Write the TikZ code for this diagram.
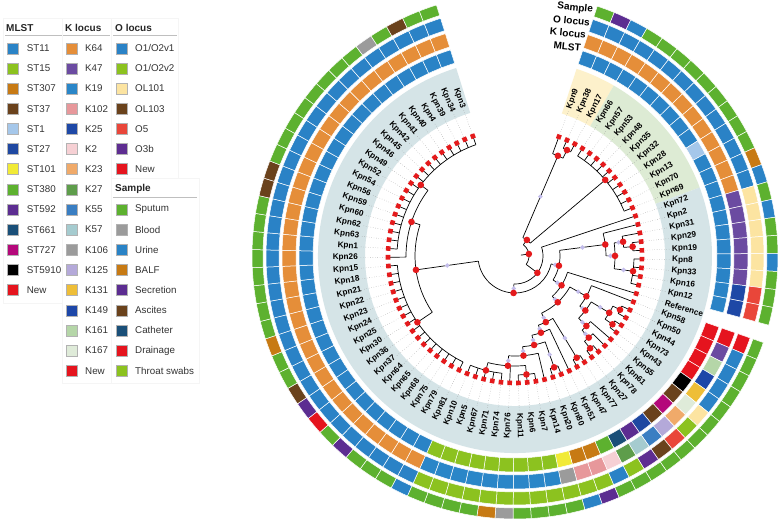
\documentclass[tikz,border=0pt]{standalone}
\usepackage{fontspec}
\setmainfont{Liberation Sans}
\definecolor{tred}{HTML}{E41A1C}
\definecolor{lavc}{HTML}{C3BDEB}
\definecolor{shB}{HTML}{D5E4E7}
\definecolor{shY}{HTML}{FDF1CB}
\definecolor{shG}{HTML}{DDEBD4}
\definecolor{legtxt}{HTML}{333333}
% MLST
\definecolor{mB}{HTML}{2A83C6}\definecolor{mLG}{HTML}{8CC21F}\definecolor{mOR}{HTML}{C77A14}
\definecolor{mBR}{HTML}{6A421C}\definecolor{mLB}{HTML}{A5C7EA}\definecolor{mDB}{HTML}{1F48A1}
\definecolor{mYE}{HTML}{F1EA36}\definecolor{mGR}{HTML}{5DB12F}\definecolor{mPU}{HTML}{5C2D91}
\definecolor{mTE}{HTML}{1A4F78}\definecolor{mMA}{HTML}{B4087A}\definecolor{mBK}{HTML}{000000}
\definecolor{mRD}{HTML}{E5141E}
% K
\definecolor{kOR}{HTML}{E58E39}\definecolor{kPU}{HTML}{6B4BA1}\definecolor{kBL}{HTML}{2A86C8}
\definecolor{kSA}{HTML}{E7989B}\definecolor{kDB}{HTML}{1E48A6}\definecolor{kPI}{HTML}{F6D0D4}
\definecolor{kLO}{HTML}{F0AA6A}\definecolor{kGR}{HTML}{5E9D4B}\definecolor{kST}{HTML}{3A7EC2}
\definecolor{kLT}{HTML}{A5CBCF}\definecolor{kGY}{HTML}{9B9B9B}\definecolor{kLA}{HTML}{B4A9D9}
\definecolor{kGO}{HTML}{EEBE38}\definecolor{kNB}{HTML}{1D47A8}\definecolor{kLG}{HTML}{B5D6A8}
\definecolor{kPA}{HTML}{DFEBD9}
% O
\definecolor{oB}{HTML}{2A82C6}\definecolor{oLG}{HTML}{8CC21F}\definecolor{oBE}{HTML}{FCE4A1}
\definecolor{oBR}{HTML}{6A421C}\definecolor{oRE}{HTML}{E9463A}\definecolor{oPU}{HTML}{5E2D91}
% Sample
\definecolor{sG}{HTML}{5DB12F}\definecolor{sGY}{HTML}{9B9B9B}\definecolor{sB}{HTML}{2A83C6}
\definecolor{sOR}{HTML}{C77A14}\definecolor{sPU}{HTML}{5C2D91}\definecolor{sBR}{HTML}{6A421C}
\definecolor{sTE}{HTML}{1A4F78}\definecolor{sRD}{HTML}{E5141E}\definecolor{sTS}{HTML}{8CC21F}

\newcommand\SetLeaf[1]{%
  \pgfmathsetmacro\tmpa{69.8-(#1-1)*3.956}%
  \expandafter\xdef\csname tangL#1\endcsname{\tmpa}%
  \expandafter\xdef\csname tradL#1\endcsname{127}}
\newcommand\TNode[3]{%
  \xdef\tsum{0}\xdef\tcnt{0}\xdef\tmin{1000}\xdef\tmax{-1000}%
  \foreach \ch in {#3}{%
    \edef\chA{\csname tang\ch\endcsname}%
    \pgfmathsetmacro\tmp{\tsum+\chA}\xdef\tsum{\tmp}%
    \pgfmathsetmacro\tmp{\tcnt+1}\xdef\tcnt{\tmp}%
    \pgfmathsetmacro\tmp{min(\tmin,\chA)}\xdef\tmin{\tmp}%
    \pgfmathsetmacro\tmp{max(\tmax,\chA)}\xdef\tmax{\tmp}%
  }%
  \pgfmathsetmacro\tmp{\tsum/\tcnt}%
  \expandafter\xdef\csname tang#1\endcsname{\tmp}%
  \expandafter\xdef\csname trad#1\endcsname{#2}%
  \draw[br] (\tmin:#2pt) arc[start angle=\tmin, end angle=\tmax, radius=#2pt];
  \foreach \ch in {#3}{%
    \edef\chA{\csname tang\ch\endcsname}\edef\chR{\csname trad\ch\endcsname}%
    \draw[br] (\chA:#2pt) -- (\chA:\chR pt);}%
}
\newcommand\Mk[2]{%
  \edef\mkA{\csname tang#1\endcsname}\edef\mkR{\csname trad#1\endcsname}%
  \pgfmathsetmacro\mkM{(#2+\mkR)/2}%
  \fill[lavc] (\mkA:\mkM pt) +(0,2.4pt) -- +(2.4pt,0) -- +(0,-2.4pt) -- +(-2.4pt,0) -- cycle;}
\newcommand\Tile[4]{%
  \pgfmathsetmacro\tA{69.8-(#3-1)*3.956+1.978}\pgfmathsetmacro\tB{\tA-3.956}%
  \fill[fill=#4, draw=white, line width=0.5pt] (\tA:#1pt) arc[start angle=\tA,end angle=\tB,radius=#1pt] -- (\tB:#2pt) arc[start angle=\tB,end angle=\tA,radius=#2pt] -- cycle;}
\newcommand\RingM[2]{\Tile{202}{216}{#1}{#2}}
\newcommand\RingK[2]{\Tile{219}{233}{#1}{#2}}
\newcommand\RingO[2]{\Tile{236}{249}{#1}{#2}}
\newcommand\RingS[2]{\Tile{252}{263}{#1}{#2}}
\newcommand\RunT[4]{\foreach \q in {#2,...,#3}{#1{\q}{#4}}}
\newcommand\Sector[5]{\fill[#5] (#1:#3pt) arc[start angle=#1,end angle=#2,radius=#3pt] -- (#2:#4pt) arc[start angle=#2,end angle=#1,radius=#4pt] -- cycle;}
\def\leafnames{Kpn9,Kpn38,Kpn17,Kpn66,Kpn57,Kpn53,Kpn48,Kpn35,Kpn32,Kpn28,Kpn13,Kpn70,Kpn69,Kpn72,Kpn2,Kpn31,Kpn29,Kpn19,Kpn8,Kpn33,Kpn16,Kpn12,Reference,Kpn58,Kpn50,Kpn44,Kpn73,Kpn43,Kpn55,Kpn61,Kpn78,Kpn27,Kpn77,Kpn47,Kpn51,Kpn80,Kpn20,Kpn14,Kpn7,Kpn6,Kpn11,Kpn76,Kpn74,Kpn71,Kpn67,Kpn5,Kpn10,Kpn81,Kpn79,Kpn75,Kpn68,Kpn65,Kpn64,Kpn37,Kpn36,Kpn30,Kpn25,Kpn24,Kpn23,Kpn22,Kpn21,Kpn18,Kpn15,Kpn26,Kpn1,Kpn63,Kpn62,Kpn60,Kpn59,Kpn56,Kpn54,Kpn52,Kpn49,Kpn46,Kpn45,Kpn42,Kpn41,Kpn40,Kpn4,Kpn39,Kpn34,Kpn3}

\begin{document}
\begin{tikzpicture}[x=1pt,y=1pt,
  br/.style={black, line width=0.7pt},
  lead/.style={black!45, line width=0.4pt, dotted},
  lab/.style={font=\bfseries\fontsize{8.2}{9}\selectfont, inner sep=0pt},
  tipsq/.style={fill=tred, inner sep=0pt, minimum size=4.6pt, draw=none},
  legsq/.style={draw=black!30, line width=0.4pt, inner sep=0pt, minimum size=11pt},
  legtx/.style={font=\fontsize{9.8}{11}\selectfont, text=legtxt, inner sep=0pt, anchor=west},
  legti/.style={font=\bfseries\fontsize{10}{12}\selectfont, text=black!85, inner sep=0pt, anchor=west},
  legln/.style={black!25, line width=1.3pt},
  legbox/.style={draw=black!4, line width=0.5pt},
  ringlab/.style={font=\bfseries\fontsize{10}{12}\selectfont, anchor=east, rotate=-6, inner sep=0pt}]
\fill[white] (0,0) rectangle (781,522);
\useasboundingbox (0,0) rectangle (781,522);

\begin{scope}[shift={(515,266)}]
  % label shading
  \Sector{71.78}{59.91}{150}{197}{shY}
  \Sector{59.91}{20.35}{150}{197}{shG}
  \Sector{20.35}{-252.62}{150}{197}{shB}
  % leaves
  \foreach \i in {1,...,82}{\SetLeaf{\i}}
  % tree
  \TNode{T1a}{118}{L2,L3}
  \TNode{T1}{109}{L1,T1a}
  \TNode{U}{118}{L4,L5,L6,L7,L8,L9,L10,L11,L12,L13}
  \TNode{Ttop}{20}{T1,U}
  \TNode{S3a}{118}{L17,L18}
  \TNode{S3}{109}{L16,S3a}
  \TNode{S4}{119}{L19,L20,L21,L22}
  \TNode{S2}{100}{S3,S4}
  \TNode{S1}{91}{L15,S2}
  \TNode{P1a}{118}{L25,L26}
  \TNode{P1b}{119}{L27,L28}
  \TNode{P1}{110}{P1a,P1b}
  \TNode{Q4}{119}{L31,L32}
  \TNode{Q3}{110}{L30,Q4}
  \TNode{Q2}{100}{L29,Q3}
  \TNode{Q1}{89}{P1,Q2}
  \TNode{N82}{82}{L24,Q1}
  \TNode{R1}{119}{L33,L34}
  \TNode{R2}{118}{L36,L37}
  \TNode{M1}{119}{L39,L40,L41}
  \TNode{M2}{118}{L43,L44,L45,L46,L47}
  \TNode{M}{110}{M1,L42,M2}
  \TNode{Z6}{100}{L38,M}
  \TNode{Z5}{91}{R2,Z6}
  \TNode{Z4}{81}{L35,Z5}
  \TNode{Z3}{73}{R1,Z4}
  \TNode{Lower2}{63}{N82,Z3}
  \TNode{Lower}{55}{L23,Lower2}
  \TNode{RC}{45}{S1,Lower}
  \TNode{D}{118}{L48,L49,L50,L51,L52,L53,L54,L55,L56,L57,L58,L59,L60,L61,L62,L63}
  \TNode{E}{118}{L65,L66,L67,L68,L69,L70,L71,L72,L73,L74,L75,L76,L77,L78,L79,L80,L81,L82}
  \TNode{C}{109}{L64,E}
  \TNode{B}{100}{C,D}
  \TNode{dot3}{37}{B,RC}
  \TNode{dot2}{28}{dot3,L14}
  \TNode{dot1}{14}{Ttop,dot2}
  \edef\rootA{\csname tangdot1\endcsname}
  \draw[br] (\rootA:6pt) -- (\rootA:14pt);
  % leaders, labels, tips
  \foreach \nm [count=\i] in \leafnames {%
    \pgfmathsetmacro\lA{69.8-(\i-1)*3.956}%
    \draw[lead] (\lA:130pt) -- (\lA:155pt);
    \ifnum\i<42
      \node[lab, anchor=west, rotate=\lA] (lab\i) at (\lA:157pt) {\nm};
    \else
      \pgfmathsetmacro\lB{\lA+180}%
      \node[lab, anchor=east, rotate=\lB] (lab\i) at (\lA:157pt) {\nm};
    \fi
    \node[tipsq, rotate=\lA] (tip\i) at (\lA:127pt) {};
  }
  % markers
  \Mk{T1}{20}\Mk{B}{37}\Mk{RC}{37}\Mk{S1}{45}\Mk{S2}{91}\Mk{S3}{100}\Mk{S4}{100}
  \Mk{Lower}{45}\Mk{Lower2}{55}\Mk{N82}{63}\Mk{Q1}{82}\Mk{Q2}{89}\Mk{Q3}{100}\Mk{P1}{89}
  \Mk{Z3}{63}\Mk{Z4}{73}\Mk{Z5}{81}\Mk{Z6}{91}\Mk{M}{100}\Mk{R1}{73}\Mk{R2}{91}\Mk{dot3}{28}
  % internal node dots
  \foreach \nd in {T1a,T1,U,Ttop,S3a,S3,S4,S2,S1,P1a,P1b,P1,Q4,Q3,Q2,Q1,N82,R1,R2,M1,M2,M,Z6,Z5,Z4,Z3,Lower2,Lower,RC,D,E,C,B,dot3,dot2,dot1}{%
    \edef\dA{\csname tang\nd\endcsname}\edef\dR{\csname trad\nd\endcsname}%
    \fill[tred] (\dA:\dR pt) circle[radius=3.3pt];}
  % rings: MLST
  \RunT\RingM{1}{10}{mB}\RingM{11}{mLB}\RunT\RingM{12}{22}{mB}
  \RunT\RingM{24}{27}{mRD}\RingM{28}{mBK}\RingM{29}{mBR}\RingM{30}{mMA}\RingM{31}{mBR}
  \RingM{32}{mDB}\RingM{33}{mPU}\RingM{34}{mTE}\RingM{35}{mGR}\RingM{36}{mOR}\RingM{37}{mOR}
  \RingM{38}{mYE}\RunT\RingM{39}{47}{mLG}\RunT\RingM{48}{82}{mB}
  % K locus
  \RunT\RingK{1}{14}{kOR}\RunT\RingK{15}{20}{kPU}\RingK{21}{kDB}\RingK{22}{kDB}
  \RingK{24}{mRD}\RingK{25}{kPU}\RingK{26}{kLG}\RingK{27}{kNB}\RingK{28}{kGO}\RingK{29}{kPA}
  \RingK{30}{kLO}\RingK{31}{kLA}\RingK{32}{kST}\RingK{33}{kLT}\RingK{34}{kGR}\RingK{35}{kPI}
  \RingK{36}{kSA}\RingK{37}{kSA}\RingK{38}{kGY}\RunT\RingK{39}{47}{kBL}\RunT\RingK{48}{82}{kOR}
  % O locus
  \RunT\RingO{1}{14}{oB}\RunT\RingO{15}{20}{oBE}\RingO{21}{oRE}\RingO{22}{oRE}
  \RingO{24}{mRD}\RunT\RingO{25}{28}{oB}\RingO{29}{oBE}\RingO{30}{oLG}\RingO{31}{oRE}
  \RingO{32}{oBR}\RingO{33}{oPU}\RingO{34}{oLG}\RingO{35}{oB}\RunT\RingO{36}{47}{oLG}\RunT\RingO{48}{82}{oB}
  % Sample
  \RingS{1}{sG}\RingS{2}{sPU}\RingS{3}{sB}\RunT\RingS{4}{12}{sG}\RingS{13}{sOR}\RingS{14}{sB}
  \RingS{15}{sG}\RingS{16}{sB}\RingS{17}{sG}\RingS{18}{sG}\RingS{19}{sB}\RunT\RingS{20}{22}{sG}
  \RunT\RingS{24}{35}{sG}\RingS{36}{sPU}\RingS{37}{sB}\RunT\RingS{38}{41}{sG}\RingS{42}{sGY}
  \RingS{43}{sOR}\RunT\RingS{44}{47}{sG}\RingS{48}{sB}\RunT\RingS{49}{51}{sG}\RingS{52}{sPU}
  \RingS{53}{sG}\RingS{54}{sRD}\RingS{55}{sPU}\RingS{56}{sBR}\RingS{57}{sG}\RingS{58}{sG}
  \RingS{59}{sOR}\RunT\RingS{60}{67}{sG}\RingS{68}{sBR}\RingS{69}{sBR}\RunT\RingS{70}{77}{sG}
  \RingS{78}{sGY}\RingS{79}{sG}\RingS{80}{sBR}\RingS{81}{sG}\RingS{82}{sG}
\end{scope}

% ring labels
\node[ringlab] (rlS) at (593,512) {Sample};
\node[ringlab] (rlO) at (590,499.5) {O locus};
\node[ringlab] (rlK) at (586,487) {K locus};
\node[ringlab] (rlM) at (581,474) {MLST};

% legend panels
\draw[legbox] (3,504) rectangle (62,219);
\draw[legbox] (62,504) rectangle (111,139);
\draw[legbox] (111,504) rectangle (178,344);
\draw[legbox] (111,344) rectangle (199,139);
% legend
\node[legti] (tM) at (6,494.3) {MLST};
\node[legti] (tK) at (65,494.3) {K locus};
\node[legti] (tO) at (115,494.3) {O locus};
\node[legti] (tS) at (115,333) {Sample};
\draw[legln] (5,486.3) -- (62,486.3);
\draw[legln] (63,486.3) -- (110,486.3);
\draw[legln] (113,486.3) -- (177,486.3);
\draw[legln] (113,324.7) -- (197,324.7);
\foreach \cl/\tx [count=\k from 0] in {mB/ST11,mLG/ST15,mOR/ST307,mBR/ST37,mLB/ST1,mDB/ST27,mYE/ST101,mGR/ST380,mPU/ST592,mTE/ST661,mMA/ST727,mBK/ST5910,mRD/New}{%
  \pgfmathsetmacro\yy{522-48.3-\k*20.15}%
  \node[legsq, fill=\cl] (ms\k) at (12.7,\yy) {};
  \node[legtx] (mt\k) at (26.7,\yy) {\tx};}
\foreach \cl/\tx [count=\k from 0] in {kOR/K64,kPU/K47,kBL/K19,kSA/K102,kDB/K25,kPI/K2,kLO/K23,kGR/K27,kST/K55,kLT/K57,kGY/K106,kLA/K125,kGO/K131,kNB/K149,kLG/K161,kPA/K167,mRD/New}{%
  \pgfmathsetmacro\yy{522-48.3-\k*20.15}%
  \node[legsq, fill=\cl] (ks\k) at (72,\yy) {};
  \node[legtx] (kt\k) at (85,\yy) {\tx};}
\foreach \cl/\tx [count=\k from 0] in {oB/{O1/O2v1},oLG/{O1/O2v2},oBE/OL101,oBR/OL103,oRE/O5,oPU/O3b,mRD/New}{%
  \pgfmathsetmacro\yy{522-48.3-\k*20.15}%
  \node[legsq, fill=\cl] (os\k) at (121.4,\yy) {};
  \node[legtx] (ot\k) at (135,\yy) {\tx};}
\foreach \cl/\tx [count=\k from 8] in {sG/Sputum,sGY/Blood,sB/Urine,sOR/BALF,sPU/Secretion,sBR/Ascites,sTE/Catheter,sRD/Drainage,sTS/{Throat swabs}}{%
  \pgfmathsetmacro\yy{522-48.3-\k*20.15}%
  \node[legsq, fill=\cl] (ss\k) at (121.4,\yy) {};
  \node[legtx] (st\k) at (135,\yy) {\tx};}
\end{tikzpicture}
\end{document}
